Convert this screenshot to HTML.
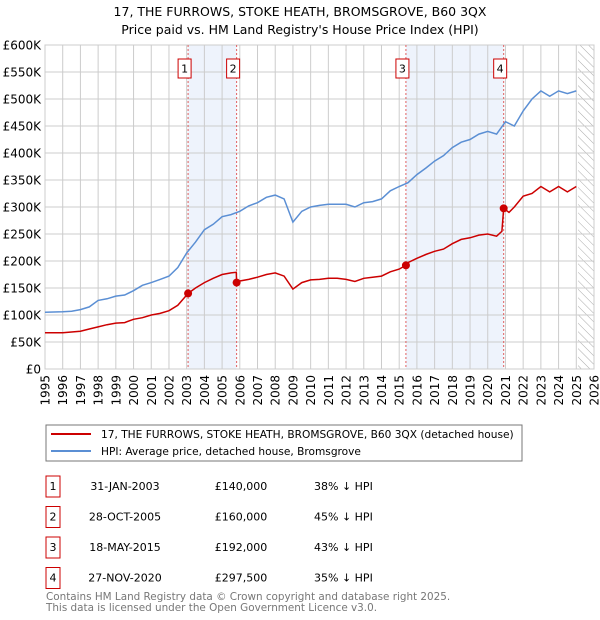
<!DOCTYPE html>
<html><head><meta charset="utf-8"><style>
body{margin:0;width:600px;height:620px;background:#fff;font-family:"DejaVu Sans","Liberation Sans",sans-serif;overflow:hidden}
svg{position:absolute;left:0;top:0}
</style></head><body>
<svg id="c" width="600" height="620"></svg>
<script>
const hpiYears=[1995,1996,1996.5,1997,1997.5,1998,1998.5,1999,1999.5,2000,2000.5,2001,2001.5,2002,2002.5,2003,2003.5,2004,2004.5,2005,2005.5,2006,2006.5,2007,2007.5,2008,2008.5,2009,2009.5,2010,2010.5,2011,2011.5,2012,2012.5,2013,2013.5,2014,2014.5,2015,2015.5,2016,2016.5,2017,2017.5,2018,2018.5,2019,2019.5,2020,2020.5,2021,2021.5,2022,2022.5,2023,2023.5,2024,2024.5,2025];
const hpiValues=[105,106,107,110,115,127,130,135,137,145,155,160,166,172,188,215,235,258,268,282,286,292,302,308,318,322,315,272,292,300,303,305,305,305,300,308,310,315,330,338,345,360,372,385,395,410,420,425,435,440,435,458,450,478,500,515,505,515,510,515];
const priceYears=[1995,1996,1997,1997.5,1998,1998.5,1999,1999.5,2000,2000.5,2001,2001.5,2002,2002.5,2003.08,2003.5,2004,2004.5,2005,2005.5,2005.8,2005.82,2006,2006.5,2007,2007.5,2008,2008.5,2009,2009.5,2010,2010.5,2011,2011.5,2012,2012.5,2013,2013.5,2014,2014.5,2015,2015.38,2015.5,2016,2016.5,2017,2017.5,2018,2018.5,2019,2019.5,2020,2020.5,2020.8,2020.9,2021.2,2021.5,2022,2022.5,2023,2023.5,2024,2024.5,2025];
const priceValues=[67,67,70,74,78,82,85,86,92,95,100,103,108,118,140,150,160,168,175,178,179,160,163,166,170,175,178,172,148,160,165,166,168,168,166,162,168,170,172,180,185,192,197,205,212,218,222,232,240,243,248,250,246,255,297.5,290,300,320,325,338,328,338,328,338];
const saleYears=[2003.08,2005.82,2015.38,2020.9];
const salePrices=[140,160,192,297.5];
const saleLabels=["1","2","3","4"];
const yTicks=[0,50,100,150,200,250,300,350,400,450,500,550,600];
const yTickLabels=["£0","£50K","£100K","£150K","£200K","£250K","£300K","£350K","£400K","£450K","£500K","£550K","£600K"];
const xTicks=[1995,1996,1997,1998,1999,2000,2001,2002,2003,2004,2005,2006,2007,2008,2009,2010,2011,2012,2013,2014,2015,2016,2017,2018,2019,2020,2021,2022,2023,2024,2025,2026];
const tableDates=["31-JAN-2003","28-OCT-2005","18-MAY-2015","27-NOV-2020"];
const tablePrices=["£140,000","£160,000","£192,000","£297,500"];
const tableHpi=["38% ↓ HPI","45% ↓ HPI","43% ↓ HPI","35% ↓ HPI"];

const X0=45,X1=594,Y0=369,Y1=45;
const sx=v=>X0+(v-1995)/(2026-1995)*(X1-X0);
const sy=v=>Y0-v/600*(Y0-Y1);
const svg=document.getElementById('c');
const NS='http://www.w3.org/2000/svg';
function mk(t,a,txt){const e=document.createElementNS(NS,t);for(const k in a)e.setAttribute(k,a[k]);if(txt!==undefined)e.textContent=txt;svg.appendChild(e);return e;}

let e;
e=mk('text',{x:300,y:16,'text-anchor':'middle','font-size':12.5,fill:'#000'},'17, THE FURROWS, STOKE HEATH, BROMSGROVE, B60 3QX');


e=mk('text',{x:300,y:34,'text-anchor':'middle','font-size':12.5,fill:'#000'},"Price paid vs. HM Land Registry's House Price Index (HPI)");



[[0,1],[2,3]].forEach(p=>{
 e=mk('rect',{x:sx(saleYears[p[0]]),y:Y1,width:sx(saleYears[p[1]])-sx(saleYears[p[0]]),height:Y0-Y1,fill:'#eef3fc'});
 
 
});
const defs=mk('defs',{});
defs.innerHTML='<pattern id="h" width="6" height="6" patternUnits="userSpaceOnUse" patternTransform="rotate(-45)"><line x1="0" y1="0" x2="0" y2="6" stroke="#aaa" stroke-width="1"/></pattern>';
e=mk('rect',{x:sx(2025.1),y:Y1,width:X1-sx(2025.1),height:Y0-Y1,fill:'url(#h)'});



yTicks.forEach((t,i)=>{
 e=mk('line',{x1:X0,x2:X1,y1:sy(t),y2:sy(t),stroke:'#ccc','stroke-width':1});
 
 
 e=mk('text',{x:X0-4,y:sy(t)+4.5,'text-anchor':'end','font-size':12,fill:'#000'},yTickLabels[i]);
 
 
});
xTicks.forEach(t=>{
 e=mk('line',{x1:sx(t),x2:sx(t),y1:Y1,y2:Y0,stroke:'#ccc','stroke-width':1});
 
 
 e=mk('text',{x:0,y:0,'text-anchor':'end','font-size':12,fill:'#000',transform:`translate(${sx(t)+4.5},${Y0+6}) rotate(-90)`},String(t));
 
 
});
e=mk('rect',{x:X0,y:Y1,width:X1-X0,height:Y0-Y1,fill:'none',stroke:'#ccc'});



saleYears.forEach((y,i)=>{
 e=mk('line',{x1:sx(y),x2:sx(y),y1:Y1,y2:Y0,stroke:'#e06060','stroke-width':1,'stroke-dasharray':'2,2'});
 
 
 const bx=sx(y)-10;
 e=mk('rect',{x:bx,y:59,width:13,height:19,fill:'#fff',stroke:'#c00'});
 
 
 e=mk('text',{x:bx+6.5,y:72.5,'text-anchor':'middle','font-size':11,fill:'#000'},saleLabels[i]);
 
 
});

function path(xs,ys){return xs.map((x,i)=>(i?'L':'M')+sx(x).toFixed(1)+','+sy(ys[i]).toFixed(1)).join('');}
e=mk('path',{d:path(hpiYears,hpiValues),fill:'none',stroke:'#5b8fd4','stroke-width':1.5});


e=mk('path',{d:path(priceYears,priceValues),fill:'none',stroke:'#cc0000','stroke-width':1.5});


saleYears.forEach((y,i)=>{
 e=mk('circle',{cx:sx(y),cy:sy(salePrices[i]),r:4,fill:'#cc0000'});
 
 
});

e=mk('rect',{x:46,y:425,width:476,height:36,fill:'#fff',stroke:'#777'});


e=mk('line',{x1:51,x2:91,y1:434,y2:434,stroke:'#cc0000','stroke-width':2});


e=mk('text',{x:101,y:438,'font-size':10.6,fill:'#000'},'17, THE FURROWS, STOKE HEATH, BROMSGROVE, B60 3QX (detached house)');


e=mk('line',{x1:51,x2:91,y1:451,y2:451,stroke:'#5b8fd4','stroke-width':2});


e=mk('text',{x:101,y:455,'font-size':10.6,fill:'#000'},'HPI: Average price, detached house, Bromsgrove');



tableDates.forEach((d,i)=>{
 const y=476+i*30.5;
 e=mk('rect',{x:46,y:y,width:14,height:21,fill:'#fff',stroke:'#c00'});
 
 
 e=mk('text',{x:53,y:y+14,'text-anchor':'middle','font-size':11},saleLabels[i]);
 
 
 e=mk('text',{x:125,y:y+14,'text-anchor':'middle','font-size':11},d);
 
 
 e=mk('text',{x:241,y:y+14,'text-anchor':'middle','font-size':11},tablePrices[i]);
 
 
 e=mk('text',{x:314,y:y+14,'font-size':11},tableHpi[i]);
 
 
});
e=mk('text',{x:46,y:600,'font-size':10.4,fill:'#777'},'Contains HM Land Registry data © Crown copyright and database right 2025.');


e=mk('text',{x:46,y:611,'font-size':10.4,fill:'#777'},'This data is licensed under the Open Government Licence v3.0.');


</script>
</body></html>
